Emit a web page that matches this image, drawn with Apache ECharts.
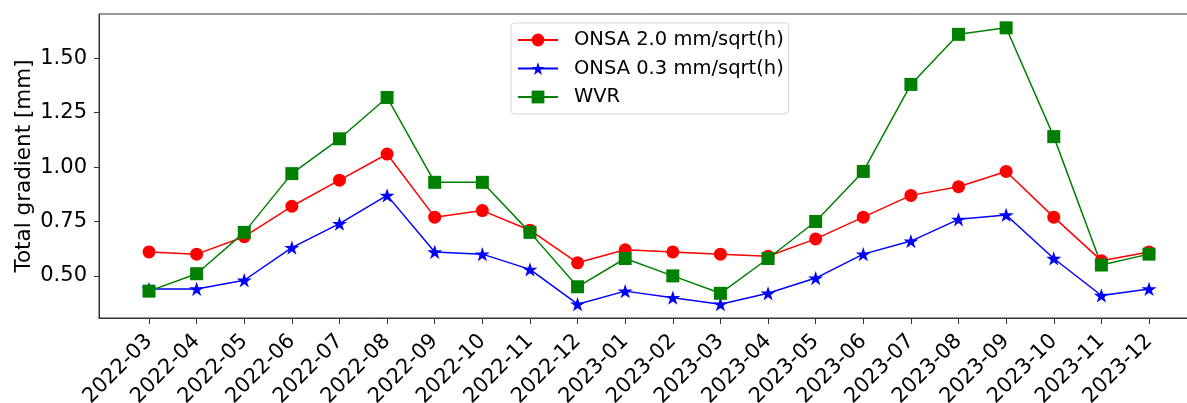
<!DOCTYPE html>
<html>
<head>
<meta charset="utf-8">
<script src="https://cdn.jsdelivr.net/npm/echarts@6/dist/echarts.min.js"></script>
<style>
  html, body { margin: 0; padding: 0; background: #fff; }
  #chart { width: 1187px; height: 403px; }
</style>
</head>
<body>
<div id="chart"></div>
<script>
// Monthly total gradient, March 2022 – December 2023
const months = ['2022-03','2022-04','2022-05','2022-06','2022-07','2022-08','2022-09','2022-10','2022-11','2022-12',
                '2023-01','2023-02','2023-03','2023-04','2023-05','2023-06','2023-07','2023-08','2023-09','2023-10','2023-11','2023-12'];
const onsa20 = [0.61,0.60,0.68,0.82,0.94,1.06,0.77,0.80,0.71,0.56,0.62,0.61,0.60,0.59,0.67,0.77,0.87,0.91,0.98,0.77,0.57,0.61];
const onsa03 = [0.44,0.44,0.48,0.63,0.74,0.87,0.61,0.60,0.53,0.37,0.43,0.40,0.37,0.42,0.49,0.60,0.66,0.76,0.78,0.58,0.41,0.44];
const wvr    = [0.43,0.51,0.70,0.97,1.13,1.32,0.93,0.93,0.70,0.45,0.58,0.50,0.42,0.58,0.75,0.98,1.38,1.61,1.64,1.14,0.55,0.60];
const yTicks = [0.50,0.75,1.00,1.25,1.50];

const FONT = 'DejaVu Sans';
const STAR = 'path://M100 0 L122.45 69.1 L195.11 69.1 L136.33 111.8 L158.78 180.9 L100 138.2 L41.22 180.9 L63.67 111.8 L4.89 69.1 L77.55 69.1 Z';

const pairs = arr => arr.map((v, i) => [i, v]);
const n = months.length;
const pad = 0.05 * (n - 1);

const allVals = onsa20.concat(onsa03, wvr);
const yLo = Math.min(...allVals), yHi = Math.max(...allVals);
const yPad = 0.05 * (yHi - yLo);

function lineSeries(name, data, color, symbol, size) {
  return {
    name, type: 'line', data: pairs(data),
    symbol, symbolSize: size, symbolKeepAspect: true,
    lineStyle: { color, width: 1.5 },
    itemStyle: { color, borderWidth: 0 },
    emphasis: { disabled: true },
    animation: false
  };
}

const chart = echarts.init(document.getElementById('chart'), null, { renderer: 'canvas' });
chart.setOption({
  backgroundColor: '#fff',
  animation: false,
  grid: {
    left: 99, top: 14, bottom: 85, width: 1100,
    containLabel: false, outerBoundsMode: 'none',
    show: true, borderColor: '#333', borderWidth: 1, backgroundColor: 'transparent'
  },
  legend: {
    orient: 'vertical', left: 511, top: 23,
    itemWidth: 40, itemHeight: 16, itemGap: 8.5,
    padding: [7, 5, 7, 6],
    backgroundColor: 'rgba(255,255,255,0.8)',
    borderColor: '#d6d6d6', borderWidth: 1, borderRadius: 4,
    textStyle: { fontFamily: FONT, fontSize: 19.5, color: '#000', padding: [0, 0, 0, 11] },
    data: ['ONSA 2.0 mm/sqrt(h)', 'ONSA 0.3 mm/sqrt(h)', 'WVR']
  },
  xAxis: {
    type: 'value', min: -pad, max: n - 1 + pad,
    axisLine: { show: true, onZero: false, lineStyle: { color: '#333', width: 1 } },
    axisTick: { show: true, length: 6, lineStyle: { color: '#333' }, customValues: months.map((_, i) => i) },
    axisLabel: {
      customValues: months.map((_, i) => i),
      formatter: v => months[Math.round(v)],
      rotate: 45, margin: 20,
      fontFamily: FONT, fontSize: 21, color: '#000'
    },
    splitLine: { show: false }
  },
  yAxis: {
    type: 'value', min: yLo - yPad, max: yHi + yPad,
    name: 'Total gradient [mm]', nameLocation: 'middle', nameGap: 64, nameMoveOverlap: false,
    nameTextStyle: { fontFamily: FONT, fontSize: 21.5, color: '#000' },
    axisLine: { show: true, onZero: false, lineStyle: { color: '#333', width: 1 } },
    axisTick: { show: true, length: 5, lineStyle: { color: '#333' }, customValues: yTicks },
    axisLabel: {
      customValues: yTicks,
      formatter: v => v.toFixed(2),
      margin: 12,
      fontFamily: FONT, fontSize: 21, color: '#000'
    },
    splitLine: { show: false }
  },
  series: [
    lineSeries('ONSA 2.0 mm/sqrt(h)', onsa20, '#ff0000', 'circle', 13),
    lineSeries('ONSA 0.3 mm/sqrt(h)', onsa03, '#0000ff', STAR, 15),
    lineSeries('WVR', wvr, '#008000', 'rect', 13)
  ]
});
</script>
</body>
</html>
